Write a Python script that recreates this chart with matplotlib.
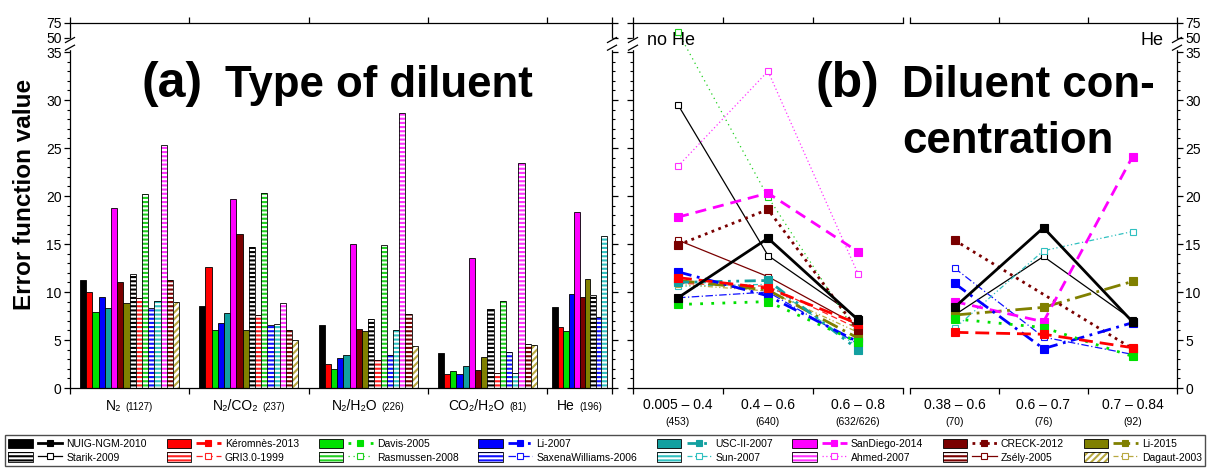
import numpy as np
import matplotlib
matplotlib.use("Agg")
import matplotlib.pyplot as plt
from matplotlib import font_manager
from matplotlib.patches import Rectangle
from matplotlib.lines import Line2D
from matplotlib.legend_handler import HandlerTuple
from matplotlib.offsetbox import TextArea, HPacker, AnnotationBbox
from matplotlib.ticker import FixedLocator

plt.rcParams["font.family"] = ["Liberation Sans", "DejaVu Sans"]
plt.rcParams["hatch.linewidth"] = 1.5

nan = np.nan

models = ["NUIG-NGM-2010", "Kéromnès-2013", "Davis-2005", "Li-2007",
          "USC-II-2007", "SanDiego-2014", "CRECK-2012", "Li-2015",
          "Starik-2009", "GRI3.0-1999", "Rasmussen-2008", "SaxenaWilliams-2006",
          "Sun-2007", "Ahmed-2007", "Zsély-2005", "Dagaut-2003"]

# (a) error function value by type of diluent
diluents = ["N₂", "N₂/CO₂", "N₂/H₂O", "CO₂/H₂O", "He"]
diluent_counts = ["(1127)", "(237)", "(226)", "(81)", "(196)"]
err_n2 = [11.2, 10.0, 7.9, 9.5, 8.3, 18.8, 11.0, 8.9, 11.9, 9.4, 20.2, 8.3, 9.1, 25.3, 11.3, 9.0]
err_n2co2 = [8.5, 12.6, 6.0, 6.8, 7.8, 19.7, 16.0, 6.0, 14.7, 7.6, 20.3, 6.6, 6.7, 8.9, 6.0, 5.0]
err_n2h2o = [6.6, 2.5, 2.0, 3.1, 3.4, 15.0, 6.1, 5.9, 7.2, 2.9, 14.9, 3.4, 6.0, 28.6, 7.7, 4.4]
err_co2h2o = [3.6, 1.5, 1.8, 1.5, 2.3, 13.5, 1.9, 3.2, 8.2, 1.6, 9.1, 3.8, 1.6, 23.4, 4.6, 4.5]
err_he = [8.4, 6.4, 5.9, 9.8, nan, 18.3, 9.5, 11.4, 9.7, nan, nan, 7.4, 15.8, nan, nan, nan]

# (b) error function value by diluent concentration
nohe_ranges = ["0.005 – 0.4", "0.4 – 0.6", "0.6 – 0.8"]
nohe_counts = ["(453)", "(640)", "(632/626)"]
nohe_005_04 = [9.4, 11.5, 8.7, 12.1, 11.0, 17.8, 14.9, 11.2, 29.5, 10.9, 60.0, 9.4, 10.6, 23.1, 15.4, 10.8]
nohe_04_06 = [15.6, 10.4, 9.0, 9.6, 11.2, 20.3, 18.6, 10.2, 13.8, 10.6, 19.9, 10.0, 10.8, 33.0, 11.6, 10.1]
nohe_06_08 = [7.1, 6.7, 4.8, 4.8, 4.0, 14.2, 6.0, 5.2, 7.3, 6.2, 5.5, 4.6, 4.3, 11.9, 6.5, 5.8]
he_ranges = ["0.38 – 0.6", "0.6 – 0.7", "0.7 – 0.84"]
he_counts = ["(70)", "(76)", "(92)"]
he_038_06 = [8.4, 5.8, 7.2, 10.9, nan, 9.0, 15.4, 7.6, 7.6, nan, nan, 12.5, 6.2, nan, nan, nan]
he_06_07 = [16.7, 5.6, 6.3, 4.1, nan, 6.9, nan, 8.4, 13.7, nan, nan, 5.3, 14.3, nan, nan, nan]
he_07_084 = [6.9, 4.2, 3.3, 6.8, nan, 24.1, 4.1, 11.1, 7.1, nan, nan, 3.5, 16.3, nan, nan, nan]

# styles
colors = ["#000000", "#FF0000", "#00E000", "#0000FF", "#12A0A0", "#FF00FF", "#7A0000", "#808000",
          "#000000", "#FF2020", "#20D020", "#1010FF", "#30C0C0", "#FF30FF", "#7A0000", "#B8A840"]
hatches = [None] * 8 + ["----"] * 7 + ["/////"]
lstyles = ["-", (0, (5, 2.5)), (0, (1, 3)), (0, (5, 2, 1, 2)), (0, (4, 2, 1, 2, 1, 2)),
           (0, (4, 2.5)), (0, (1, 1.6)), (0, (6, 2, 1, 2)),
           "-", (0, (5, 3)), (0, (1, 3)), (0, (6, 2, 1, 2)), (0, (4, 2, 1, 2, 1, 2)),
           (0, (1, 2)), "-", (0, (4, 2, 1, 2, 1, 2))]
lwidths = [2.0] * 8 + [0.9] * 8


# broken y axis: 0-35 linear, 35-50 squeezed, 50-75 compressed
def fwd(y):
    y = np.asarray(y, dtype=float)
    return np.where(y <= 35, y, np.where(y <= 50, 35 + (y - 35) * 1.46 / 15, 36.46 + (y - 50) * 0.0625))


def inv(v):
    v = np.asarray(v, dtype=float)
    return np.where(v <= 35, v, np.where(v <= 36.46, 35 + (v - 35) * 15 / 1.46, 50 + (v - 36.46) / 0.0625))


def setup_y(ax, left_labels=False, right_labels=False, left=True, right=True):
    ax.set_yscale("function", functions=(fwd, inv))
    ax.set_ylim(0, 75)
    major = [0, 5, 10, 15, 20, 25, 30, 35, 50, 75]
    ax.yaxis.set_major_locator(FixedLocator(major))
    ax.yaxis.set_minor_locator(FixedLocator([i for i in range(36) if i % 5]))
    ax.set_yticklabels([str(m) for m in major])
    ax.tick_params(axis="y", which="both", direction="out", left=left, right=right,
                   labelleft=left_labels, labelright=right_labels, labelsize=10, pad=1.5)
    ax.tick_params(axis="y", which="major", length=4.5, width=0.9)
    ax.tick_params(axis="y", which="minor", length=2.5, width=0.8)


def break_marks(ax, xs):
    top = float(fwd(75))
    bb = ax.get_position()
    dx = 4.5 / (bb.width * 1209)
    dy = 2.5 / (bb.height * 471)
    for x in xs:
        ax.plot([x, x], [35.45 / top, 36.25 / top], transform=ax.transAxes, color="white",
                lw=2.5, clip_on=False, zorder=6)
        for yv in (35.45, 36.25):
            yf = yv / top
            ax.plot([x - dx, x + dx], [yf - dy, yf + dy], transform=ax.transAxes,
                    color="black", lw=0.9, clip_on=False, zorder=7)


fig = plt.figure(figsize=(12.09, 4.71), dpi=100)
bottom, height = (471 - 388) / 471, 365 / 471
ax_a = fig.add_axes([70 / 1209, bottom, 542 / 1209, height])
ax_b1 = fig.add_axes([633 / 1209, bottom, 270 / 1209, height])
ax_b2 = fig.add_axes([910 / 1209, bottom, 267 / 1209, height])

for ax in (ax_a, ax_b1, ax_b2):
    for s in ax.spines.values():
        s.set_linewidth(0.9)

# ---- (a) bars ----
bar_values = [err_n2, err_n2co2, err_n2h2o, err_co2h2o, err_he]
group_span = [1, 1, 1, 1, 0.545]
group_left = np.concatenate([[0], np.cumsum(group_span)[:-1]])
for g, vals in enumerate(bar_values):
    idx = [i for i, v in enumerate(vals) if not np.isnan(v)]
    w = 0.052 if len(idx) == 16 else 0.0453
    start = group_left[g] + (group_span[g] - len(idx) * w) / 2
    for k, i in enumerate(idx):
        x = start + k * w
        if hatches[i] is None:
            ax_a.bar(x, vals[i], width=w, align="edge", color=colors[i],
                     edgecolor="black", linewidth=0.6)
        else:
            ax_a.bar(x, vals[i], width=w, align="edge", color="white",
                     edgecolor=colors[i], hatch=hatches[i], linewidth=0)
            ax_a.bar(x, vals[i], width=w, align="edge", fill=False,
                     edgecolor="black", linewidth=0.6)

edges = list(group_left) + [sum(group_span)]
ax_a.set_xlim(0, sum(group_span))
ax_a.set_xticks(edges)
ax_a.set_xticklabels([])
ax_a.tick_params(axis="x", which="major", direction="out", top=True, bottom=True,
                 length=4.5, width=0.9)
setup_y(ax_a, left_labels=True)
for g in range(len(diluents)):
    box = HPacker(children=[TextArea(diluents[g], textprops=dict(fontsize=10)),
                            TextArea(diluent_counts[g], textprops=dict(fontsize=7))],
                  align="baseline", pad=0, sep=3)
    ab = AnnotationBbox(box, (group_left[g] + group_span[g] / 2, 0),
                        xycoords=ax_a.get_xaxis_transform(), xybox=(0, -8),
                        boxcoords="offset points", box_alignment=(0.5, 1), frameon=False)
    ax_a.add_artist(ab)

narrow = any(f.name == "Liberation Sans Narrow" for f in font_manager.fontManager.ttflist)
if narrow:
    ax_a.set_ylabel("Error function value", fontsize=21, fontweight="bold",
                    family=["Liberation Sans Narrow", "Liberation Sans"])
else:
    ax_a.set_ylabel("Error function value", fontsize=17.5, fontweight="bold")
ax_a.yaxis.set_label_coords(-0.062, 0.53)
break_marks(ax_a, [0, 1])

# ---- (b) lines ----
cols_nohe = [nohe_005_04, nohe_04_06, nohe_06_08]
cols_he = [he_038_06, he_06_07, he_07_084]
xpos = np.array([0.5, 1.5, 2.5])
draw_order = list(range(8, 16)) + list(range(7, -1, -1))
for ax, cols in ((ax_b1, cols_nohe), (ax_b2, cols_he)):
    for i in draw_order:
        ys = np.array([c[i] for c in cols])
        ok = ~np.isnan(ys)
        if not ok.any():
            continue
        filled = hatches[i] is None
        ax.plot(xpos[ok], ys[ok], color=colors[i], linestyle=lstyles[i], linewidth=lwidths[i],
                marker="s", markersize=5.5 if filled else 4.5,
                markerfacecolor=colors[i] if filled else "white",
                markeredgecolor=colors[i], markeredgewidth=0.8, clip_on=False,
                zorder=3 if filled else 2)
    ax.set_xlim(0, 3)
    ax.set_xticks([0, 1, 2, 3])
    ax.set_xticklabels([])
    ax.tick_params(axis="x", which="major", direction="out", top=True, bottom=True,
                   length=4.5, width=0.9)

setup_y(ax_b1, left=True, right=False)
setup_y(ax_b2, left=False, right=True, right_labels=True)
ax_b1.spines["right"].set_visible(False)
ax_b2.spines["left"].set_visible(False)
break_marks(ax_b1, [0])
break_marks(ax_b2, [1])

for ax, ranges, counts in ((ax_b1, nohe_ranges, nohe_counts), (ax_b2, he_ranges, he_counts)):
    for x, r, c in zip(xpos, ranges, counts):
        ax.annotate(r, (x, 0), xycoords=ax.get_xaxis_transform(), xytext=(0, -7.5),
                    textcoords="offset points", ha="center", va="top", fontsize=10)
        ax.annotate(c, (x, 0), xycoords=ax.get_xaxis_transform(), xytext=(0, -21),
                    textcoords="offset points", ha="center", va="top", fontsize=7.5)

# ---- panel titles ----
def fx(px):
    return px / 1209


def fy(py):
    return 1 - py / 471


fig.text(fx(142), fy(97), "(a)", fontsize=36, fontweight="bold", va="baseline")
fig.text(fx(225), fy(97), "Type of diluent", fontsize=31.5, fontweight="bold", va="baseline")
fig.text(fx(816), fy(97), "(b)", fontsize=36, fontweight="bold", va="baseline")
fig.text(fx(902), fy(97), "Diluent con-", fontsize=31.5, fontweight="bold", va="baseline")
fig.text(fx(902), fy(153), "centration", fontsize=31.5, fontweight="bold", va="baseline")
fig.text(fx(647), fy(45), "no He", fontsize=13, va="baseline")
fig.text(fx(1164), fy(45), "He", fontsize=13, va="baseline", ha="right")

# ---- legend ----
handles, labels, hmap = [], [], {}
order = [j for pair in zip(range(8), range(8, 16)) for j in pair]
for i in order:
    if hatches[i] is None:
        patch = Rectangle((0, 0), 1, 1, facecolor=colors[i], edgecolor="black", linewidth=0.6)
    else:
        patch = (Rectangle((0, 0), 1, 1, facecolor="white", edgecolor=colors[i],
                           hatch=hatches[i], linewidth=0),
                 Rectangle((0, 0), 1, 1, fill=False, edgecolor="black", linewidth=0.6))
    filled = hatches[i] is None
    line = Line2D([], [], color=colors[i], linestyle=lstyles[i], linewidth=lwidths[i],
                  marker="s", markersize=5 if filled else 4,
                  markerfacecolor=colors[i] if filled else "white",
                  markeredgecolor=colors[i], markeredgewidth=0.8)
    h = (patch, line)
    hmap[h] = HandlerTuple(ndivide=None, pad=0.5)
    handles.append(h)
    labels.append(models[i])

leg = fig.legend(handles, labels, handler_map=hmap, loc="center",
                 bbox_to_anchor=(fx(5), 0.002, fx(1200), 39 / 471), bbox_transform=fig.transFigure,
                 mode="expand", ncol=8, fontsize=7.5, handlelength=5.2, handleheight=1.0,
                 handletextpad=0.4, columnspacing=0.4, labelspacing=0.35, borderpad=0.3,
                 borderaxespad=0, fancybox=False, edgecolor="0.3", framealpha=1)
leg.get_frame().set_linewidth(1.0)

fig.savefig("out.png", dpi=100)
